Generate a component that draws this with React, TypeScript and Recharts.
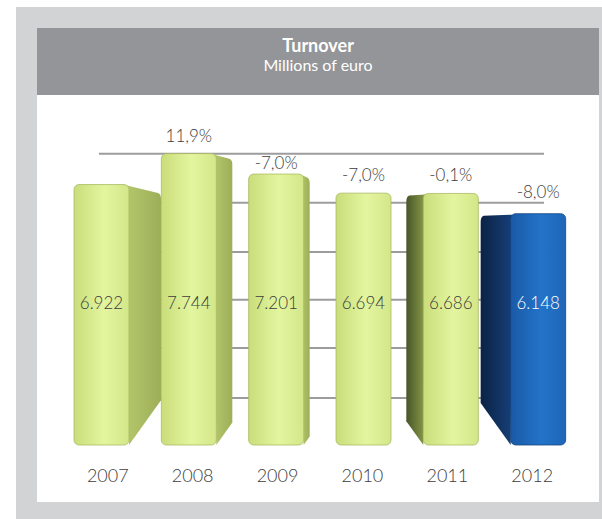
import { BarChart, Bar, XAxis, YAxis, CartesianGrid, LabelList } from 'recharts';

const YEARS = ['2007', '2008', '2009', '2010', '2011', '2012'];
const TURNOVER = [6922, 7744, 7201, 6694, 6686, 6148];
const CHANGE = ['', '11,9%', '-7,0%', '-7,0%', '-0,1%', '-8,0%'];
const GRID_TICKS = [1250, 2580, 3860, 5130, 6440, 7740];
const HIGHLIGHT = '2012';

// side-face depth of each pseudo-3D bar (+ right, - left)
const SIDE_DEPTH = [32, 16, 6, 0, -17, -30];
// how far above each bar top its change label sits
const LABEL_LIFT = [18, 18, 12, 19, 19, 22];

const FONT = 'Lato, "Open Sans", sans-serif';
const TEXT = '#3d3d3d';

const data = YEARS.map((year, i) => ({ year, value: TURNOVER[i], change: CHANGE[i] }));

const fmt = (v: number) => String(v).replace(/\B(?=(\d{3})+(?!\d))/g, '.');

function Bar3D(props: any) {
  const { x, y, width, height, index, payload } = props;
  const blue = payload.year === HIGHLIGHT;
  const d = SIDE_DEPTH[index] || 0;
  const bottom = y + height;
  const a = Math.abs(d);
  let side = null;
  if (d > 0) {
    const xs = x + width;
    side = (
      <path
        d={`M${xs - 2},${y + 1} L${xs + a - 3},${y + 2 + a * 0.2} Q${xs + a},${y + 3 + a * 0.2} ${xs + a},${y + 8 + a * 0.2} L${xs + a},${bottom - a * 1.4} L${xs},${bottom} Z`}
        fill={blue ? 'url(#blueSideR)' : 'url(#greenSideR)'}
      />
    );
  } else if (d < 0) {
    const xs = x;
    side = (
      <path
        d={`M${xs + 2},${y + 1} L${xs - a + 3},${y + 2} Q${xs - a},${y + 3} ${xs - a},${y + 8} L${xs - a},${bottom - a * 1.4} L${xs},${bottom} Z`}
        fill={blue ? 'url(#blueSideL)' : 'url(#greenSideL)'}
      />
    );
  }
  return (
    <g>
      {side}
      <rect
        x={x}
        y={y}
        width={width}
        height={height}
        rx={5}
        ry={5}
        fill={blue ? 'url(#blueFront)' : 'url(#greenFront)'}
        stroke={blue ? '#15467f' : '#a9bb62'}
        strokeWidth={0.8}
      />
    </g>
  );
}

function ValueLabel(props: any) {
  const { x, y, width, height, value, index } = props;
  const blue = YEARS[index] === HIGHLIGHT;
  return (
    <text
      x={x + width / 2}
      y={y + height - 143}
      textAnchor="middle"
      dominantBaseline="central"
      fontFamily={FONT}
      fontWeight={300}
      fontSize={17}
      fill={blue ? '#ffffff' : TEXT}
    >
      {fmt(value)}
    </text>
  );
}

function ChangeLabel(props: any) {
  const { x, y, width, value, index } = props;
  if (!value) return null;
  return (
    <text
      x={x + width / 2}
      y={y - LABEL_LIFT[index]}
      textAnchor="middle"
      dominantBaseline="central"
      fontFamily={FONT}
      fontWeight={300}
      fontSize={17}
      fill={TEXT}
    >
      {value}
    </text>
  );
}

function YearTick(props: any) {
  const { x, y, payload } = props;
  const dx = -(x - 320) * 0.028;
  return (
    <text x={x + dx} y={y} dy="0.71em" textAnchor="middle" fontFamily={FONT} fontWeight={300} fontSize={18} fill={TEXT}>
      {payload.value}
    </text>
  );
}

const gridLine = (p: any) => (
  <line
    key={p.key ?? `g-${p.index}`}
    x1={p.x1 + 41}
    x2={p.x2 - 38}
    y1={p.y1}
    y2={p.y2}
    stroke="#9c9c9c"
    strokeWidth={2}
  />
);

export default function App() {
  return (
    <div style={{ position: 'absolute', left: 0, top: 0, width: 602, height: 519, background: '#ffffff', overflow: 'hidden' }}>
      <div style={{ position: 'absolute', left: 16, top: 7, width: 586, height: 512, background: '#d1d3d4' }} />
      <div style={{ position: 'absolute', left: 37, top: 28, width: 562, height: 474, background: '#ffffff' }} />
      <div
        style={{
          position: 'absolute',
          left: 37,
          top: 28,
          width: 562,
          height: 67,
          background: '#939598',
          color: '#ffffff',
          fontFamily: FONT,
          textAlign: 'center',
        }}
      >
        <div style={{ fontWeight: 700, fontSize: 18, lineHeight: '19px', marginTop: 8 }}>Turnover</div>
        <div style={{ fontSize: 16, lineHeight: '19px' }}>Millions of euro</div>
      </div>
      <div style={{ position: 'absolute', left: 0, top: 0 }}>
        <BarChart width={602} height={519} data={data} margin={{ top: 144, right: 20, bottom: 44, left: 58 }}>
          <defs>
            <linearGradient id="greenFront" x1="0" y1="0" x2="1" y2="0">
              <stop offset="0%" stopColor="#c9dd7b" />
              <stop offset="55%" stopColor="#e3f69f" />
              <stop offset="100%" stopColor="#d3e689" />
            </linearGradient>
            <linearGradient id="greenSideR" x1="0" y1="0" x2="1" y2="0">
              <stop offset="0%" stopColor="#b4c76c" />
              <stop offset="100%" stopColor="#9cae57" />
            </linearGradient>
            <linearGradient id="greenSideL" x1="0" y1="0" x2="1" y2="0">
              <stop offset="0%" stopColor="#485527" />
              <stop offset="100%" stopColor="#8a9c4b" />
            </linearGradient>
            <linearGradient id="blueFront" x1="0" y1="0" x2="1" y2="0">
              <stop offset="0%" stopColor="#1a5aa7" />
              <stop offset="55%" stopColor="#2373c8" />
              <stop offset="100%" stopColor="#1e66b8" />
            </linearGradient>
            <linearGradient id="blueSideL" x1="0" y1="0" x2="1" y2="0">
              <stop offset="0%" stopColor="#0b2244" />
              <stop offset="100%" stopColor="#16407a" />
            </linearGradient>
            <linearGradient id="blueSideR" x1="0" y1="0" x2="1" y2="0">
              <stop offset="0%" stopColor="#16407a" />
              <stop offset="100%" stopColor="#0b2244" />
            </linearGradient>
          </defs>
          <CartesianGrid vertical={false} horizontal={gridLine} horizontalValues={GRID_TICKS} />
          <XAxis dataKey="year" height={30} axisLine={false} tickLine={false} tickSize={0} tickMargin={24} tick={<YearTick />} interval={0} />
          <YAxis hide domain={[0, 8000]} ticks={GRID_TICKS} />
          <Bar dataKey="value" barSize={55} shape={<Bar3D />} isAnimationActive={false}>
            <LabelList dataKey="value" content={<ValueLabel />} />
            <LabelList dataKey="change" content={<ChangeLabel />} />
          </Bar>
        </BarChart>
      </div>
    </div>
  );
}
